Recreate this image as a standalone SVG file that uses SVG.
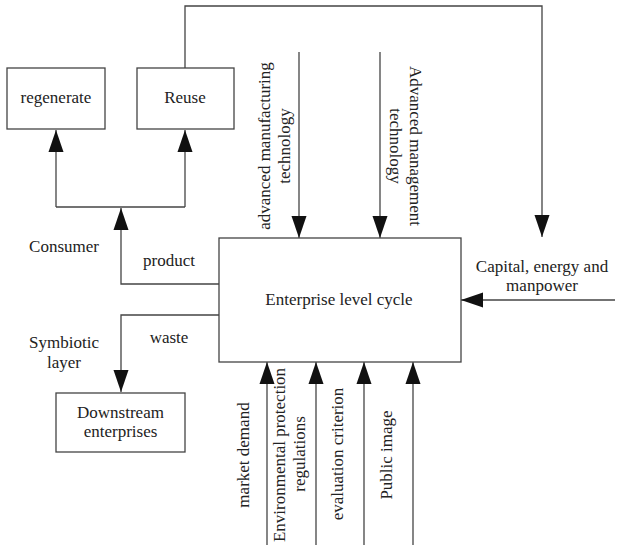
<svg xmlns="http://www.w3.org/2000/svg" width="617" height="548" viewBox="0 0 617 548">
<style>
.box{fill:#fff;stroke:#444;stroke-width:1.3}
.ln{fill:none;stroke:#444;stroke-width:1.3}
.arr{marker-end:url(#ah)}
text{font-family:"Liberation Serif","Times New Roman",serif;font-size:17px;fill:#222}
.c{text-anchor:middle}
</style>
<defs>
<marker id="ah" markerUnits="userSpaceOnUse" markerWidth="22" markerHeight="16" refX="22" refY="7.5" orient="auto" viewBox="0 0 22 15">
<path d="M0,0 L22,7.5 L0,15 z" fill="#111"/>
</marker>
</defs>
<g id="connectors">
<path class="ln arr" d="M185,68 V6 H542 V237"/>
<path class="ln" d="M56,207 H185"/>
<path class="ln arr" d="M56,207 V130"/>
<path class="ln arr" d="M185,207 V130"/>
<path class="ln arr" d="M219,284 H121 V208"/>
<path class="ln arr" d="M219,315 H121 V392"/>
<path class="ln arr" d="M299,52 V238"/>
<path class="ln arr" d="M380,52 V238"/>
<path class="ln arr" d="M615,300 H461"/>
<path class="ln arr" d="M267,545 V362"/>
<path class="ln arr" d="M316,545 V362"/>
<path class="ln arr" d="M364,545 V362"/>
<path class="ln arr" d="M413,545 V362"/>
</g>
<g id="regenerate">
<rect class="box" x="7" y="68" width="98" height="61"/>
<text class="c" x="56" y="103">regenerate</text>
</g>
<g id="reuse">
<rect class="box" x="137" y="68" width="97" height="61"/>
<text class="c" x="185" y="103">Reuse</text>
</g>
<g id="enterprise">
<rect class="box" x="219" y="238" width="242" height="124"/>
<text class="c" x="339" y="305">Enterprise level cycle</text>
</g>
<g id="downstream">
<rect class="box" x="56" y="393" width="129" height="59"/>
<text class="c" x="120.5" y="418">Downstream</text>
<text class="c" x="120.5" y="437">enterprises</text>
</g>
<g id="labels">
<text class="c" x="64" y="252">Consumer</text>
<text class="c" x="169" y="266">product</text>
<text class="c" x="64" y="348">Symbiotic</text>
<text class="c" x="64" y="368">layer</text>
<text class="c" x="169" y="343">waste</text>
<text class="c" x="542" y="272">Capital, energy and</text>
<text class="c" x="542" y="291">manpower</text>
<text class="c" transform="translate(270,146) rotate(-90)"><tspan x="0" y="0">advanced manufacturing</tspan><tspan x="0" y="20">technology</tspan></text>
<text class="c" transform="translate(410,146) rotate(90)"><tspan x="0" y="0">Advanced management</tspan><tspan x="0" y="20">technology</tspan></text>
<text class="c" transform="translate(249,455) rotate(-90)">market demand</text>
<text class="c" transform="translate(285,455) rotate(-90)"><tspan x="0" y="0">Environmental protection</tspan><tspan x="1" y="20">regulations</tspan></text>
<text class="c" transform="translate(343,454) rotate(-90)">evaluation criterion</text>
<text class="c" transform="translate(392,455) rotate(-90)">Public image</text>
</g>
</svg>
